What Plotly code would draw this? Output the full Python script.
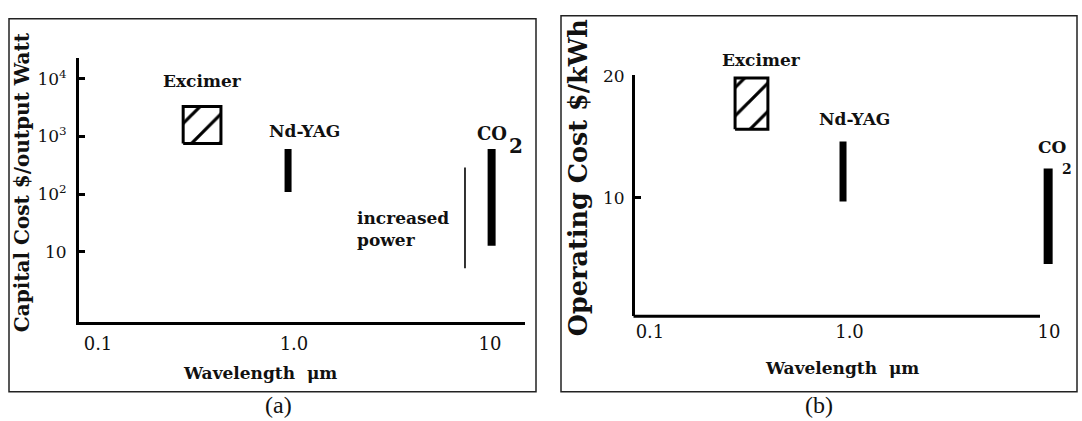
import math
import plotly.graph_objects as go

W, H = 1082, 421

# ---------------- data ----------------
# (a) capital cost ($/output Watt) vs wavelength (um)
excimer_wl_a = [0.272, 0.424]
excimer_cost_a = [750, 3300]
ndyag_wl_a = 0.933
ndyag_cost_a = [109, 605]
co2_wl_a = 10.2
co2_cost_a = [12.7, 605]
power_wl_a = 7.46
power_range_a = [5.2, 288]

# (b) operating cost ($/kWh) vs wavelength (um)
excimer_wl_b = [0.267, 0.39]
excimer_cost_b = [15.6, 19.8]
ndyag_wl_b = 0.928
ndyag_cost_b = [9.7, 14.6]
co2_wl_b = 9.9
co2_cost_b = [4.6, 12.4]

x_tickvals = [0.1, 1.0, 10]
x_ticktext = ["0.1", "1.0", "10"]
ya_tickvals = [10, 100, 1000, 10000]
ya_ticktext = ["10", "10<sup>2</sup>", "10<sup>3</sup>", "10<sup>4</sup>"]
yb_tickvals = [10, 20]
yb_ticktext = ["10", "20"]

FONT = "DejaVu Serif"
INK = "#111"


def px(x):
    return x / W


def py(y):
    return 1 - y / H


fig = go.Figure()


def box(xs, ys, xa, ya, size):
    x0, x1 = xs
    y0, y1 = ys
    fig.add_trace(go.Scatter(
        x=[x0, x1, x1, x0, x0], y=[y0, y0, y1, y1, y0],
        mode="lines", fill="toself", fillcolor="white",
        fillpattern=dict(shape="/", size=size, solidity=0.16,
                         fgcolor="black", bgcolor="white", fgopacity=1),
        line=dict(color="black", width=3),
        xaxis=xa, yaxis=ya, hoverinfo="skip", showlegend=False))


def bar(x, ys, xa, ya, width):
    fig.add_trace(go.Scatter(
        x=[x, x], y=ys, mode="lines",
        line=dict(color="black", width=width),
        xaxis=xa, yaxis=ya, hoverinfo="skip", showlegend=False))


# panel (a)
box(excimer_wl_a, excimer_cost_a, "x", "y", 20)
bar(ndyag_wl_a, ndyag_cost_a, "x", "y", 7)
bar(co2_wl_a, co2_cost_a, "x", "y", 8)
bar(power_wl_a, power_range_a, "x", "y", 1.6)

# panel (b)
box(excimer_wl_b, excimer_cost_b, "x2", "y2", 20)
bar(ndyag_wl_b, ndyag_cost_b, "x2", "y2", 7)
bar(co2_wl_b, co2_cost_b, "x2", "y2", 9)

L = math.log10
anns = []


def ann(text, x, y, xref="paper", yref="paper", xs=0, ys=0, size=16,
        family=FONT, weight="normal", **kw):
    d = dict(text=text, x=x, y=y, xref=xref, yref=yref, xshift=xs, yshift=ys,
             showarrow=False,
             font=dict(family=family, size=size, color=INK, weight=weight),
             xanchor=kw.pop("xanchor", "center"), yanchor=kw.pop("yanchor", "middle"))
    d.update(kw)
    anns.append(d)


B = "bold"
# labels (a)
ann("Excimer", L(math.sqrt(excimer_wl_a[0] * excimer_wl_a[1])), L(max(excimer_cost_a)),
    "x", "y", 0, 25, 17, weight=B)
ann("Nd-YAG", L(ndyag_wl_a), L(max(ndyag_cost_a)), "x", "y", 16, 18, 17, weight=B)
ann("CO", L(co2_wl_a), L(max(co2_cost_a)), "x", "y", 0, 15, 18, weight=B)
ann("2", L(co2_wl_a), L(max(co2_cost_a)), "x", "y", 24, 3, 20, weight=B)
ann("increased<br>power", L(power_wl_a), L(math.sqrt(power_range_a[0] * power_range_a[1])),
    "x", "y", -14, -11, 17, weight=B, xanchor="right", align="left")

# labels (b)
ann("Excimer", L(math.sqrt(excimer_wl_b[0] * excimer_wl_b[1])), max(excimer_cost_b),
    "x2", "y2", 10, 18, 17, weight=B)
ann("Nd-YAG", L(ndyag_wl_b), max(ndyag_cost_b), "x2", "y2", 11, 23, 17, weight=B)
ann("CO", L(co2_wl_b), max(co2_cost_b), "x2", "y2", 4, 22, 17, weight=B)
ann("2", L(co2_wl_b), max(co2_cost_b), "x2", "y2", 19, 0, 14, weight=B)

# axis titles
ann("Capital Cost $/output Watt", px(22), py(177), size=20, weight=B, textangle=-90)
ann("Wavelength\u00a0\u00a0\u03bcm", px(260), py(372), size=17, weight=B)
ann("Operating Cost $/kWh", px(578), py(173), size=25.5, weight=B, textangle=-90)
ann("Wavelength\u00a0\u00a0\u03bcm", px(842), py(367), size=17, weight=B)

# panel captions
ann("(a)", px(278), py(405), size=24, family="Liberation Serif")
ann("(b)", px(819), py(405), size=24, family="Liberation Serif")

shapes = [
    dict(type="rect", xref="paper", yref="paper", x0=px(9), x1=px(536), y0=py(391), y1=py(10),
         line=dict(color="#222", width=1.5)),
    dict(type="rect", xref="paper", yref="paper", x0=px(561), x1=px(1077), y0=py(391), y1=py(7),
         line=dict(color="#222", width=1.5)),
    # panel (b) x-axis line (stops short of the CO2 bar)
    dict(type="line", xref="paper", yref="paper", x0=px(633.5), x1=px(1040), y0=py(314), y1=py(314),
         line=dict(color="black", width=3)),
]

xtickfont = dict(family=FONT, size=18, color=INK)
ytickfont = dict(family=FONT, size=17, color=INK)
common_x = dict(type="log", tickvals=x_tickvals, ticktext=x_ticktext, ticks="",
                showgrid=False, zeroline=False, tickfont=xtickfont, ticklabelstandoff=3)

fig.update_layout(
    width=W, height=H,
    margin=dict(l=0, r=0, t=0, b=0),
    paper_bgcolor="white", plot_bgcolor="white",
    showlegend=False,
    xaxis=dict(domain=[px(79), px(525)], range=[-1.097, 1.179], anchor="y",
               showline=True, linecolor="black", linewidth=3, **common_x),
    yaxis=dict(domain=[py(320), py(50)], type="log", range=[-0.22, 4.36], anchor="x",
               tickvals=ya_tickvals, ticktext=ya_ticktext, ticks="inside", ticklen=6,
               tickwidth=2.5, tickcolor="black", showline=True, linecolor="black",
               linewidth=3, showgrid=False, zeroline=False, tickfont=ytickfont,
               ticklabelstandoff=6),
    xaxis2=dict(domain=[px(635), px(1060)], range=[-1.075, 1.055], anchor="y2",
                showline=False, **common_x),
    yaxis2=dict(domain=[py(314), py(67)], range=[0.32, 20.08], anchor="x2",
                tickvals=yb_tickvals, ticktext=yb_ticktext, ticks="inside", ticklen=6,
                tickwidth=2.5, tickcolor="black", showline=True, linecolor="black",
                linewidth=3, showgrid=False, zeroline=False, tickfont=ytickfont,
                ticklabelstandoff=4),
    annotations=anns,
    shapes=shapes,
)

fig.write_html("out.html")
